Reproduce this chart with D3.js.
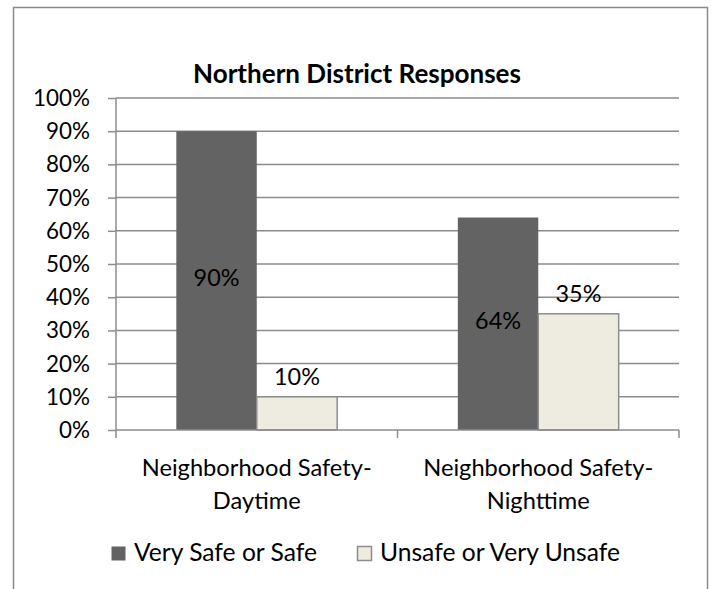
<!DOCTYPE html>
<html>
<head>
<meta charset="utf-8">
<script src="https://cdn.jsdelivr.net/npm/d3@7"></script>
<style>
  html, body { margin: 0; padding: 0; background: #fff; }
  svg { display: block; }
  text { font-family: Lato, "Open Sans", sans-serif; fill: #000; }
</style>
</head>
<body>
<svg id="chart" width="714" height="589"></svg>
<script>
// Survey results, share of respondents per category
const categories = [["Neighborhood Safety-", "Daytime"], ["Neighborhood Safety-", "Nighttime"]];
const seriesNames = ["Very Safe or Safe", "Unsafe or Very Unsafe"];
const safeValues = [0.90, 0.64];
const unsafeValues = [0.10, 0.35];
const yTicks = [0, 0.1, 0.2, 0.3, 0.4, 0.5, 0.6, 0.7, 0.8, 0.9, 1.0];
const chartTitle = "Northern District Responses";

const colors = ["#636363", "#EEEBE0"];
const svg = d3.select("#chart");
const pct = d3.format(".0%");

// Font size at which a string spans the given width
function sizeFor(str, w, weight) {
  const t = svg.append("text").attr("font-size", 20)
    .attr("font-weight", weight || "normal").text(str);
  const len = t.node().getComputedTextLength();
  t.remove();
  return len > 0 ? +(20 * w / len).toFixed(2) : 20;
}
const titleSize = sizeFor(chartTitle, 328, "bold");
const tickSize = sizeFor("100%", 57);
const catSize = sizeFor("Neighborhood Safety-", 230);
const valSize = sizeFor("90%", 46);
const legendSize = sizeFor("Unsafe or Very Unsafe", 240);

// Chart frame
svg.append("rect")
  .attr("x", 13.5).attr("y", 7.5)
  .attr("width", 694).attr("height", 600)
  .attr("fill", "#fff").attr("stroke", "#8a8a8a").attr("stroke-width", 1.5);

const plot = { left: 116, right: 679, top: 98, bottom: 430 };

const x0 = d3.scaleBand()
  .domain(d3.range(categories.length))
  .range([plot.left, plot.right]);
const x1 = d3.scaleBand()
  .domain(d3.range(seriesNames.length))
  .range([0, x0.bandwidth()])
  .paddingOuter(0.75).paddingInner(0);
const y = d3.scaleLinear().domain([0, 1]).range([plot.bottom, plot.top]);

// Y tick marks
const yAxis = d3.axisLeft(y).tickValues(yTicks).tickSize(8).tickFormat(pct);
const yG = svg.append("g").attr("transform", `translate(${plot.left},0)`).call(yAxis);
yG.select(".domain").remove();
yG.selectAll(".tick line").attr("stroke", "#8c8c8c").attr("stroke-width", 1.5);
yG.selectAll(".tick text").remove();

// Gridlines
svg.append("g").selectAll("line")
  .data(yTicks.filter(d => d > 0))
  .join("line")
  .attr("x1", plot.left).attr("x2", plot.right)
  .attr("y1", d => y(d)).attr("y2", d => y(d))
  .attr("stroke", "#8c8c8c").attr("stroke-width", 1.5);

// Y tick labels
svg.append("g").selectAll("text")
  .data(yTicks)
  .join("text")
  .attr("x", 90).attr("y", d => y(d))
  .attr("dy", "0.36em")
  .attr("text-anchor", "end")
  .attr("font-size", tickSize)
  .text(d => pct(d));

// Bars
const data = categories.map((c, i) => [safeValues[i], unsafeValues[i]]);
const groups = svg.append("g").selectAll("g")
  .data(data)
  .join("g")
  .attr("transform", (d, i) => `translate(${x0(i)},0)`);

groups.selectAll("rect")
  .data(d => d)
  .join("rect")
  .attr("x", (d, j) => x1(j))
  .attr("y", d => y(d))
  .attr("width", x1.bandwidth())
  .attr("height", d => y(0) - y(d))
  .attr("fill", (d, j) => colors[j])
  .attr("stroke", (d, j) => j === 1 ? "#8c8c8c" : "none")
  .attr("stroke-width", 1.5);

// Value labels: inside the dark bar, above the light bar
groups.selectAll("text.val")
  .data(d => d)
  .join("text")
  .attr("class", "val")
  .attr("x", (d, j) => x1(j) + x1.bandwidth() / 2)
  .attr("y", (d, j) => j === 0 ? (y(d) + y(0)) / 2 - 3 : y(d) - 20)
  .attr("dy", "0.36em")
  .attr("text-anchor", "middle")
  .attr("font-size", valSize)
  .text(d => pct(d));

// X axis line, left axis line and category ticks
svg.append("line")
  .attr("x1", plot.left).attr("x2", plot.right)
  .attr("y1", plot.bottom).attr("y2", plot.bottom)
  .attr("stroke", "#8c8c8c").attr("stroke-width", 1.5);
svg.append("line")
  .attr("x1", plot.left).attr("x2", plot.left)
  .attr("y1", plot.top).attr("y2", plot.bottom + 8)
  .attr("stroke", "#8c8c8c").attr("stroke-width", 1.5);
const xTickPos = d3.range(1, categories.length + 1).map(i => plot.left + i * x0.step());
svg.append("g").selectAll("line")
  .data(xTickPos)
  .join("line")
  .attr("x1", d => d).attr("x2", d => d)
  .attr("y1", plot.bottom).attr("y2", plot.bottom + 8)
  .attr("stroke", "#8c8c8c").attr("stroke-width", 1.5);

// Category labels (two lines)
categories.forEach((lines, i) => {
  const cx = x0(i) + x0.bandwidth() / 2;
  lines.forEach((t, k) => {
    svg.append("text")
      .attr("x", cx).attr("y", 476 + k * 33)
      .attr("text-anchor", "middle")
      .attr("font-size", catSize)
      .text(t);
  });
});

// Title
svg.append("text")
  .attr("x", 357).attr("y", 83)
  .attr("text-anchor", "middle")
  .attr("font-size", titleSize)
  .attr("font-weight", "bold")
  .text(chartTitle);

// Legend
const legendX = [111, 357];
seriesNames.forEach((name, j) => {
  svg.append("rect")
    .attr("x", legendX[j] + 0.5).attr("y", 546.5)
    .attr("width", 14).attr("height", 14)
    .attr("fill", colors[j])
    .attr("stroke", j === 1 ? "#8c8c8c" : "none")
    .attr("stroke-width", 1.5);
  svg.append("text")
    .attr("x", legendX[j] + 23).attr("y", 561)
    .attr("font-size", legendSize)
    .text(name);
});
</script>
</body>
</html>
